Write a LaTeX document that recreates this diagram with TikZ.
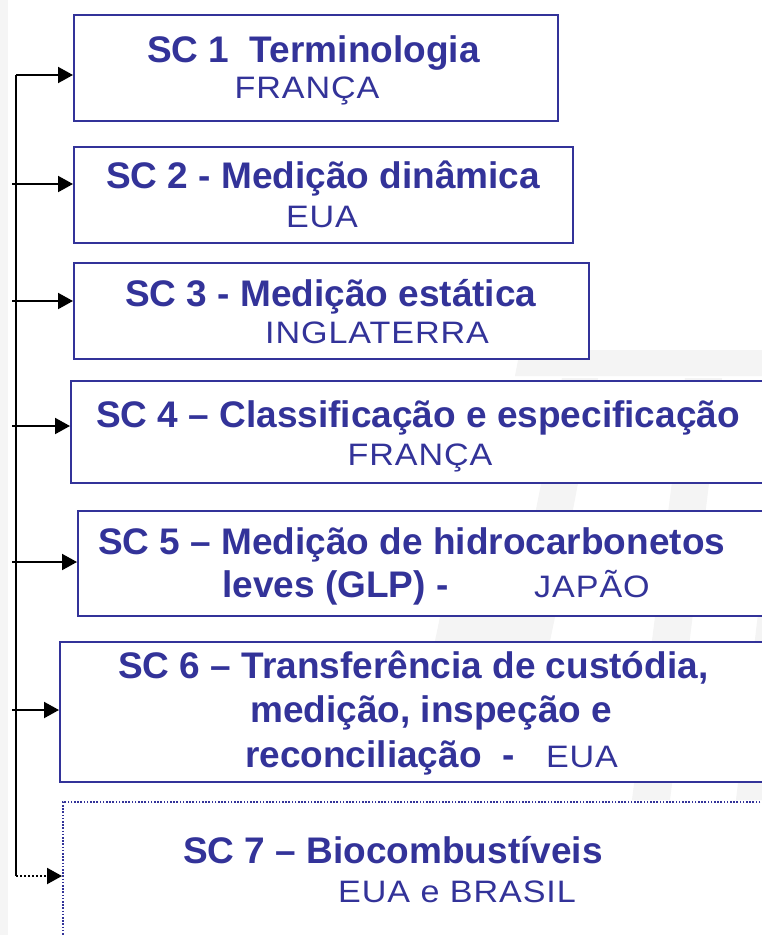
\documentclass[tikz,border=0pt]{standalone}
\usepackage{fontspec}
\setmainfont{Liberation Sans}
\newfontfamily\ctryfont[FakeStretch=1.1,LetterSpace=3]{Liberation Sans}
\usetikzlibrary{arrows.meta}
\definecolor{scblue}{HTML}{333399}
\definecolor{wm}{HTML}{F4F4F4}
\tikzset{
  scbox/.style={draw=scblue, line width=2pt, fill=white, anchor=north west, inner sep=0pt},
  sctitle/.style={text=scblue, font=\fontsize{37}{40}\selectfont\bfseries, anchor=base west, inner sep=0pt},
  ctry/.style={text=scblue, font=\fontsize{31}{34}\ctryfont, anchor=base, inner sep=0pt},
  feed/.style={draw=black, line width=2pt},
  tip/.style={-{Triangle[length=15pt,width=16pt]}},
  feedarrow/.style={feed, tip},
}
\begin{document}
\begin{tikzpicture}[x=1pt,y=-1pt]
\useasboundingbox (0,0) rectangle (762,935);
\clip (0,0) rectangle (762,935);
\fill[white] (0,0) rectangle (762,935);
\fill[black!4] (0,0) rectangle (8,935);
% watermark
\fill[wm] (520,350) -- (762,350) -- (762,376) -- (515,376) -- cycle;
\fill[wm] (562,378) -- (598,378) -- (548,641) -- (510,641) -- cycle;
\fill[wm] (440,617) -- (555,617) -- (550,641) -- (435,641) -- cycle;
\fill[wm] (685,378) -- (722,378) -- (670,800) -- (632,800) -- cycle;
\fill[wm] (762,580) -- (762,800) -- (736,800) -- cycle;
% boxes
\node[scbox, minimum width=484pt, minimum height=106pt] (b1) at (73,14) {};
\node[scbox, minimum width=499pt, minimum height=96pt] (b2) at (73,146) {};
\node[scbox, minimum width=515pt, minimum height=96pt] (b3) at (73,262) {};
\node[scbox, minimum width=720pt, minimum height=102pt] (b4) at (70,380) {};
\node[scbox, minimum width=720pt, minimum height=105pt] (b5) at (77,510) {};
\node[scbox, minimum width=720pt, minimum height=140pt] (b6) at (59,641) {};
\node[draw=scblue, line width=1.6pt, dash pattern=on 1.6pt off 1.6pt, fill=white, anchor=north west, inner sep=0pt, minimum width=720pt, minimum height=160pt] (b7) at (62,801) {};
% texts
\node[sctitle] (t1) at (147,62) {SC 1\ \ Terminologia};
\node[ctry] (n1) at (307,98) {FRANÇA};
\node[sctitle] (t2) at (106,188) {SC 2 - Medição dinâmica};
\node[ctry] (n2) at (322,227) {EUA};
\node[sctitle] (t3) at (125,306) {SC 3 - Medição estática};
\node[ctry] (n3) at (377,343) {INGLATERRA};
\node[sctitle] (t4) at (96,427) {SC 4 – Classificação e especificação};
\node[ctry] (n4) at (420,465) {FRANÇA};
\node[sctitle] (t5a) at (98,554) {SC 5 – Medição de hidrocarbonetos};
\node[sctitle] (t5b) at (222,597) {leves (GLP) -};
\node[ctry] (n5) at (592,597) {JAPÃO};
\node[sctitle] (t6a) at (118,678) {SC 6 – Transferência de custódia,};
\node[sctitle] (t6b) at (250,722) {medição, inspeção e};
\node[sctitle] (t6c) at (245,767) {reconciliação\ \ -};
\node[ctry] (n6) at (582,767) {EUA};
\node[sctitle] (t7) at (183,863) {SC 7 – Biocombustíveis};
\node[ctry] (n7) at (457,902) {EUA e BRASIL};
% connectors
\coordinate (c1) at (16,75);
\coordinate (c7) at (16,876);
\coordinate (s2) at (12,184);
\coordinate (s3) at (12,301);
\coordinate (s4) at (12,426);
\coordinate (s5) at (12,562);
\coordinate (s6) at (12,710);
\draw[feed] (c1) -- (c7);
\draw[feedarrow] (c1) -- (c1 -| b1.west);
\draw[feedarrow] (s2) -- (s2 -| b2.west);
\draw[feedarrow] (s3) -- (s3 -| b3.west);
\draw[feedarrow] (s4) -- (s4 -| b4.west);
\draw[feedarrow] (s5) -- (s5 -| b5.west);
\draw[feedarrow] (s6) -- (s6 -| b6.west);
\draw[black, line width=2pt, dash pattern=on 2pt off 2pt, tip] (c7) -- (c7 -| b7.west);
\end{tikzpicture}
\end{document}
